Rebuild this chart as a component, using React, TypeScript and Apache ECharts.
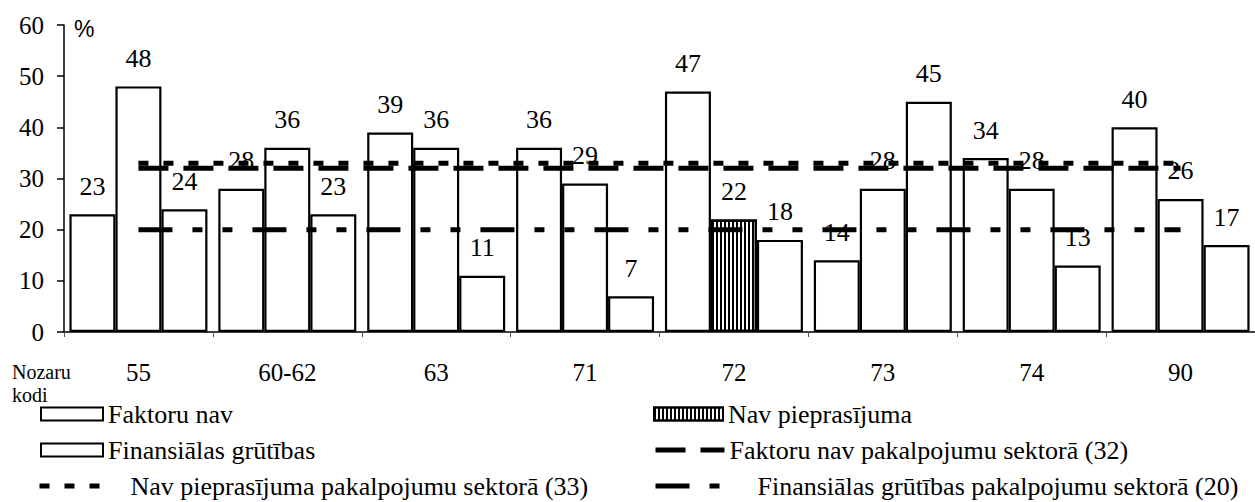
import React, { useEffect, useRef } from "react";
import * as echarts from "echarts";

const categories = ["55", "60-62", "63", "71", "72", "73", "74", "90"];
const faktoruNav = [23, 28, 39, 36, 47, 14, 34, 40];
const navPieprasijuma = [48, 36, 36, 29, 22, 28, 28, 26];
const finansialas = [24, 23, 11, 7, 18, 45, 13, 17];
const faktoruNavSektors = [32, 32, 32, 32, 32, 32, 32, 32];
const navPieprasijumaSektors = [33, 33, 33, 33, 33, 33, 33, 33];
const finansialasSektors = [20, 20, 20, 20, 20, 20, 20, 20];
const hatchedIndex = 4;

const SERIF = "Liberation Serif, Times New Roman, serif";
const SANS = "Liberation Sans, Arial, sans-serif";

const NAMES = {
  fn: "Faktoru nav",
  np: "Nav pieprasījuma",
  fg: "Finansiālas grūtības",
  fnS: "Faktoru nav pakalpojumu sektorā (32)",
  npS: "Nav pieprasījuma pakalpojumu sektorā (33)",
  fgS: "Finansiālas grūtības pakalpojumu sektorā (20)",
};

const hatch = {
  symbol: "rect",
  symbolSize: 1,
  color: "#000",
  dashArrayX: [1.5, 1.5],
  dashArrayY: [2, 0],
  rotation: 0,
};

export default function App() {
  const ref = useRef<HTMLDivElement>(null);
  useEffect(() => {
    if (!ref.current) return;
    const chart = echarts.init(ref.current, null, { renderer: "svg" });
    const barBase = {
      type: "bar",
      barWidth: 46,
      barGap: "0%",
      itemStyle: { color: "#fff", borderColor: "#000", borderWidth: 2.2 },
      label: {
        show: true,
        position: "top",
        distance: 15,
        fontFamily: SERIF,
        fontSize: 26,
        color: "#000",
      },
    };
    const lineBase = {
      type: "line",
      symbol: "none",
      showSymbol: false,
      silent: true,
      z: 5,
    };
    const legendText = (pad: number) => ({
      fontFamily: SERIF,
      fontSize: 26,
      lineHeight: 26,
      color: "#000",
      padding: [0, 0, 0, pad],
    });
    const legendBase = {
      orient: "horizontal",
      padding: 0,
      selectedMode: false,
      itemHeight: 13,
    };
    const lineLegend = {
      lineStyle: { width: 5 },
      itemStyle: { opacity: 0 },
    };
    const rowTop = [401, 437, 473];
    const option: any = {
      animation: false,
      textStyle: { fontFamily: SERIF },
      grid: { left: 64, right: -9, top: 25, bottom: 170 },
      xAxis: {
        type: "category",
        data: categories,
        axisLine: { lineStyle: { color: "#000", width: 1.5 } },
        axisTick: { show: true, length: 5, lineStyle: { color: "#555", width: 1 } },
        axisLabel: { fontFamily: SERIF, fontSize: 25, color: "#000", margin: 28 },
      },
      yAxis: {
        type: "value",
        min: 0,
        max: 60,
        interval: 10,
        splitLine: { show: false },
        axisLine: { show: true, lineStyle: { color: "#000", width: 1.5 } },
        axisTick: { show: true, length: 7, lineStyle: { color: "#000", width: 1.5 } },
        axisLabel: { fontFamily: SERIF, fontSize: 25, color: "#000", margin: 20 },
      },
      series: [
        { ...barBase, name: NAMES.fn, data: faktoruNav },
        {
          ...barBase,
          name: NAMES.np,
          data: navPieprasijuma.map((v, i) =>
            i === hatchedIndex ? { value: v, itemStyle: { decal: hatch } } : v
          ),
        },
        { ...barBase, name: NAMES.fg, data: finansialas },
        {
          ...lineBase,
          name: NAMES.npS,
          data: navPieprasijumaSektors,
          lineStyle: { color: "#000", width: 5, type: [10, 15] },
        },
        {
          ...lineBase,
          name: NAMES.fnS,
          data: faktoruNavSektors,
          lineStyle: { color: "#000", width: 5, type: [30, 15] },
        },
        {
          ...lineBase,
          name: NAMES.fgS,
          data: finansialasSektors,
          lineStyle: { color: "#000", width: 5, type: [34, 20, 10, 20, 10, 20] },
        },
      ],
      legend: [
        {
          ...legendBase,
          left: 40,
          top: rowTop[0],
          itemWidth: 62,
          icon: "rect",
          data: [NAMES.fn],
          textStyle: legendText(0),
        },
        {
          ...legendBase,
          left: 40,
          top: rowTop[1],
          itemWidth: 62,
          icon: "rect",
          data: [NAMES.fg],
          textStyle: legendText(0),
        },
        {
          ...legendBase,
          ...lineLegend,
          left: 37,
          top: rowTop[2],
          itemWidth: 60,
          data: [NAMES.npS],
          textStyle: legendText(26),
        },
        {
          ...legendBase,
          left: 653,
          top: rowTop[0],
          itemWidth: 69,
          icon: "rect",
          data: [{ name: NAMES.np, itemStyle: { decal: hatch } }],
          textStyle: legendText(0),
        },
        {
          ...legendBase,
          ...lineLegend,
          left: 653,
          top: rowTop[1],
          itemWidth: 69,
          data: [NAMES.fnS],
          textStyle: legendText(0),
        },
        {
          ...legendBase,
          ...lineLegend,
          left: 653,
          top: rowTop[2],
          itemWidth: 69,
          data: [NAMES.fgS],
          textStyle: legendText(28),
        },
      ],
      graphic: [
        {
          type: "text",
          left: 74,
          top: 17,
          style: { text: "%", fontFamily: SANS, fontSize: 23, fill: "#000" },
        },
        {
          type: "text",
          left: 12,
          top: 360,
          style: {
            text: "Nozaru\nkodi",
            fontFamily: SERIF,
            fontSize: 20,
            lineHeight: 23,
            fill: "#000",
          },
        },
      ],
    };
    chart.setOption(option);
    return () => chart.dispose();
  }, []);
  return (
    <div
      ref={ref}
      style={{
        position: "fixed",
        left: 0,
        top: 0,
        width: 1255,
        height: 502,
        background: "#fff",
      }}
    />
  );
}
